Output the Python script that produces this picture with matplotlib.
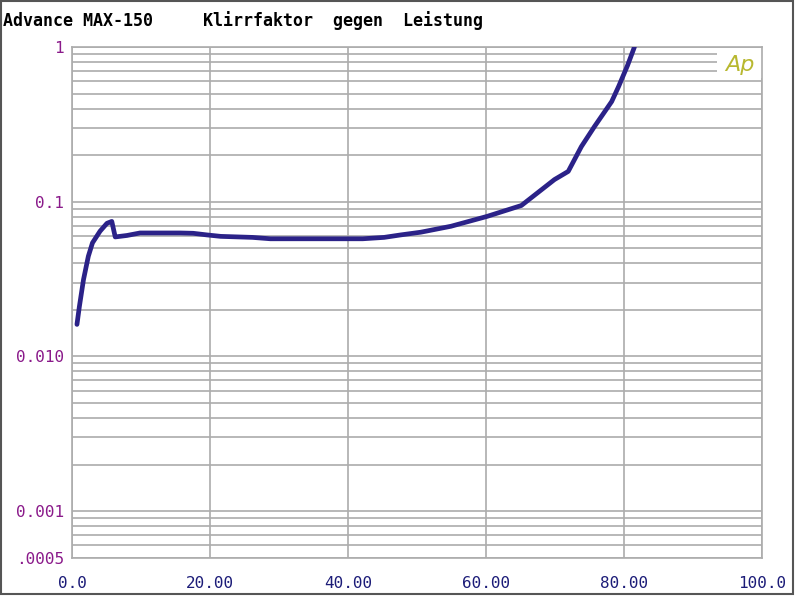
import matplotlib.pyplot as plt
from matplotlib.patches import Rectangle
from matplotlib.ticker import LogLocator, NullFormatter

# Klirrfaktor (%) gegen Leistung (W)
power = [0.65, 1.0, 1.6, 2.3, 2.9, 4.0, 5.0, 5.7, 6.2, 7.9, 9.8, 15.6, 17.5,
         19.5, 21.5, 26.1, 28.7, 35.0, 42.1, 45.2, 47.6, 50.5, 54.9, 60.1,
         65.1, 69.9, 71.9, 73.8, 75.7, 78.2, 79.2, 80.5, 81.5]
thd = [0.0161, 0.021, 0.0314, 0.0444, 0.0542, 0.0645, 0.0725, 0.0746, 0.0592,
       0.0605, 0.0628, 0.0628, 0.0625, 0.0610, 0.0597, 0.0588, 0.0576, 0.0576,
       0.0576, 0.0588, 0.0610, 0.0635, 0.0694, 0.0803, 0.0945, 0.139, 0.157,
       0.227, 0.306, 0.444, 0.555, 0.76, 1.0]

xticks = [0, 20, 40, 60, 80, 100]
xlabels = ["0.0", "20.00", "40.00", "60.00", "80.00", "100.0"]
yticks = [1, 0.1, 0.01, 0.001, 0.0005]
ylabels = ["1", "0.1", "0.010", "0.001", ".0005"]

grid_c = "#acacac"
mono = "DejaVu Sans Mono"

fig = plt.figure(figsize=(8, 5.98), dpi=100)
ax = fig.add_axes([0.0906, 0.0674, 0.8619, 0.854])

ax.plot(power, thd, color="#2b2288", lw=3.4, solid_capstyle="round", zorder=3)

ax.set_yscale("log")
ax.set_xlim(0, 100)
ax.set_ylim(0.0005, 1)

ax.set_xticks(xticks)
ax.set_xticklabels(xlabels, family=mono, fontsize=11.5, color="#1c1c78")
ax.set_yticks(yticks)
ax.set_yticklabels(ylabels, family=mono, fontsize=11.5, color="#8a1a8a")
ax.yaxis.set_minor_locator(LogLocator(base=10, subs=range(2, 10), numticks=20))
ax.yaxis.set_minor_formatter(NullFormatter())
ax.tick_params(which="both", length=0)
ax.tick_params(axis="x", pad=13)
ax.tick_params(axis="y", pad=6)

ax.grid(True, which="both", axis="y", color=grid_c, lw=1.2)
ax.grid(True, which="major", axis="x", color=grid_c, lw=1.2)
for s in ax.spines.values():
    s.set_color(grid_c)
    s.set_linewidth(1.2)

# Ap logo box
ax.add_patch(Rectangle((0.935, 0.94), 0.065, 0.058, transform=ax.transAxes,
                       facecolor="white", edgecolor="none", zorder=2.5))
ax.text(0.968, 0.965, "Ap", transform=ax.transAxes, ha="center", va="center",
        fontsize=16, style="italic", color="#b8b830", family="DejaVu Sans",
        fontweight="light", zorder=4)

fig.text(0.004, 0.966, "Advance MAX-150     Klirrfaktor  gegen  Leistung",
         family=mono, fontsize=12, fontweight="bold", color="black",
         ha="left", va="center")

# outer frame
fig.patches.append(Rectangle((0.001, 0.006), 0.99, 0.993, transform=fig.transFigure,
                             fill=False, edgecolor="#555555", lw=1.5))

fig.savefig("out.png", dpi=100)
